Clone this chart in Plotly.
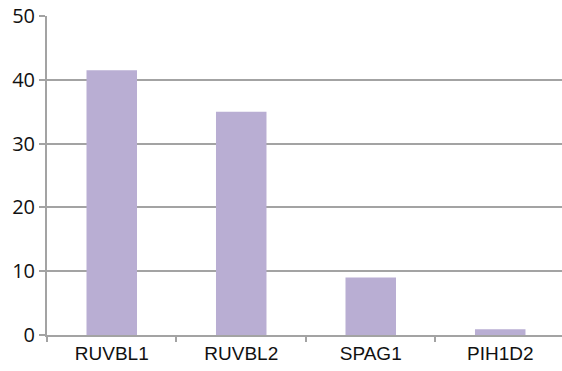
import plotly.graph_objects as go

genes = ["RUVBL1", "RUVBL2", "SPAG1", "PIH1D2"]
values = [41.5, 35.0, 9.0, 0.9]
y_ticks = [0, 10, 20, 30, 40, 50]

grid_color = "#a3a3a3"
bar_color = "#b9aed3"

fig = go.Figure(
    go.Bar(
        x=genes,
        y=values,
        width=0.39,
        marker=dict(color=bar_color, line=dict(width=0)),
    )
)

fig.update_layout(
    width=562,
    height=371,
    margin=dict(l=47, r=0, t=16, b=36),
    paper_bgcolor="white",
    plot_bgcolor="white",
    showlegend=False,
    bargap=0.6,
)

fig.update_xaxes(
    range=[-0.5, 3.477],
    showline=True,
    linecolor=grid_color,
    linewidth=2,
    ticks="outside",
    tickson="boundaries",
    ticklen=5,
    tickwidth=2,
    tickcolor=grid_color,
    tickfont=dict(family="Liberation Sans, Arial", size=19, color="#111111"),
    showgrid=False,
)

fig.update_yaxes(
    range=[0, 50],
    tickvals=y_ticks,
    showline=True,
    linecolor=grid_color,
    linewidth=2,
    ticks="outside",
    ticklen=6,
    tickwidth=2,
    tickcolor=grid_color,
    showgrid=True,
    gridcolor=grid_color,
    gridwidth=2,
    zeroline=False,
    tickfont=dict(family="Open Sans", size=20, color="#111111"),
)

fig.write_html("out.html")
